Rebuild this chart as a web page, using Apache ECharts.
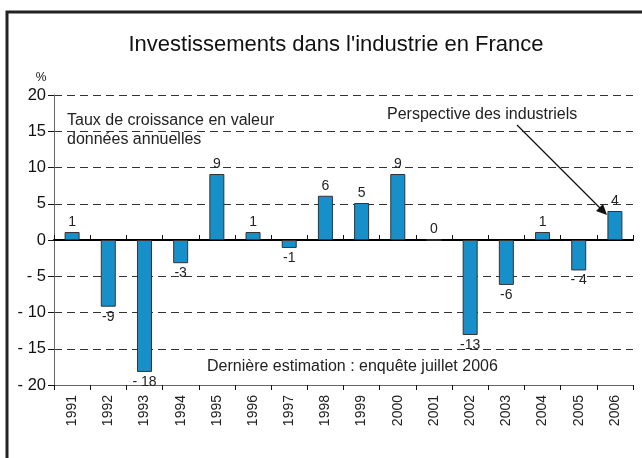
<!DOCTYPE html>
<html>
<head>
<meta charset="utf-8">
<script src="https://cdn.jsdelivr.net/npm/echarts@6/dist/echarts.min.js"></script>
<style>
html,body{margin:0;padding:0;background:#fff;}
#c{width:642px;height:458px;}
</style>
</head>
<body>
<div id="c"></div>
<script>
var years = ['1991','1992','1993','1994','1995','1996','1997','1998','1999','2000','2001','2002','2003','2004','2005','2006'];
var growth = [1.1, -9.2, -18.2, -3.2, 9.1, 1.1, -1.1, 6.1, 5.1, 9.1, 0, -13.1, -6.2, 1.1, -4.2, 4.0];
var valueLabels = ['1','-9','- 18','-3','9','1','-1','6','5','9','0','-13','-6','1','- 4','4'];
var yTicks = {min: -20, max: 20, step: 5};

var FONT = 'Liberation Sans, Arial, Helvetica, sans-serif';
var chart = echarts.init(document.getElementById('c'), null, {renderer: 'canvas'});

var labeledData = growth.map(function (v, i) {
  return {
    value: v,
    label: {
      position: v < 0 ? 'bottom' : 'top',
      formatter: valueLabels[i]
    }
  };
});

var tickCommon = {show: true, alignWithLabel: false, length: 5, lineStyle: {color: '#111', width: 1}};

chart.setOption({
  animation: false,
  backgroundColor: '#fff',
  grid: {left: 54, right: 9, top: 95, bottom: 73, containLabel: false},
  xAxis: [
    {
      type: 'category', data: years, position: 'bottom',
      axisLine: {onZero: false, lineStyle: {color: '#666', width: 1}},
      axisTick: tickCommon,
      axisLabel: {rotate: 90, margin: 10, fontSize: 14, color: '#222', fontFamily: FONT},
      splitLine: {show: false}
    },
    {
      type: 'category', data: years, position: 'top',
      axisLine: {onZero: true, lineStyle: {color: '#000', width: 2.2}},
      axisTick: tickCommon,
      axisLabel: {show: false},
      splitLine: {show: false}
    },
    {
      type: 'category', data: years, position: 'bottom',
      axisLine: {onZero: true, show: false},
      axisTick: tickCommon,
      axisLabel: {show: false},
      splitLine: {show: false}
    }
  ],
  yAxis: {
    type: 'value', min: yTicks.min, max: yTicks.max, interval: yTicks.step,
    axisLine: {show: true, lineStyle: {color: '#666', width: 1}},
    axisTick: {show: true, length: 6, lineStyle: {color: '#111'}},
    axisLabel: {
      fontSize: 16.5, color: '#111', fontFamily: FONT, margin: 8,
      formatter: function (v) { return v < 0 ? '- ' + Math.abs(v) : String(v); }
    },
    splitLine: {show: true, lineStyle: {color: '#333', type: [8, 5], width: 1}}
  },
  series: [{
    type: 'bar',
    xAxisIndex: 0,
    data: labeledData,
    barWidth: 15,
    itemStyle: {color: '#1790c9', borderColor: '#333', borderWidth: 1},
    label: {show: true, fontSize: 14, color: '#222', fontFamily: FONT, distance: 3}
  }],
  graphic: [
    {type: 'rect', shape: {x: 7, y: 12, width: 660, height: 480}, style: {fill: 'none', stroke: '#222', lineWidth: 3}, silent: true},
    {type: 'text', x: 336, y: 45, style: {text: "Investissements dans l'industrie en France", font: '22px ' + FONT, fill: '#111', textAlign: 'center', textVerticalAlign: 'middle'}},
    {type: 'text', x: 41, y: 78, style: {text: '%', font: '12px ' + FONT, fill: '#111', textAlign: 'center', textVerticalAlign: 'middle'}},
    {type: 'text', x: 67, y: 121, style: {text: 'Taux de croissance en valeur', font: '16px ' + FONT, fill: '#222', textVerticalAlign: 'middle'}},
    {type: 'text', x: 67, y: 140, style: {text: 'données annuelles', font: '16px ' + FONT, fill: '#222', textVerticalAlign: 'middle'}},
    {type: 'text', x: 387, y: 115, style: {text: 'Perspective des industriels', font: '16px ' + FONT, fill: '#222', textVerticalAlign: 'middle'}},
    {type: 'text', x: 207, y: 367, style: {text: 'Dernière estimation : enquête juillet 2006', font: '16px ' + FONT, fill: '#222', textVerticalAlign: 'middle'}},
    {type: 'line', shape: {x1: 517, y1: 125, x2: 605, y2: 213}, style: {stroke: '#111', lineWidth: 1.2}},
    {type: 'polygon', shape: {points: [[607, 215], [596, 211], [603, 204]]}, style: {fill: '#111'}}
  ]
});
</script>
</body>
</html>
